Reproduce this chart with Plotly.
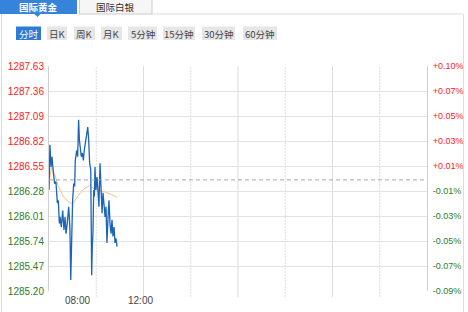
import plotly.graph_objects as go

# ---------------- data ----------------
PRE_CLOSE = 1286.40
Y_TICKS = [1285.20, 1285.47, 1285.74, 1286.01, 1286.28, 1286.55, 1286.82, 1287.09, 1287.36, 1287.63]
PCT_LABELS = ["-0.09%", "-0.07%", "-0.05%", "-0.03%", "-0.01%", "+0.01%", "+0.03%", "+0.05%", "+0.07%", "+0.10%"]
X_TICKS = [8, 12]
X_TICK_LABELS = ["08:00", "12:00"]
GRID_SOLID = [12, 18, 24]
GRID_DASHED = [9, 15, 21, 27]
X_RANGE = [6, 30]

price_time = [6.00, 6.06, 6.13, 6.19, 6.28, 6.36, 6.44, 6.53, 6.59, 6.66, 6.70, 6.78, 6.87, 6.95,
              7.02, 7.08, 7.16, 7.25, 7.29, 7.33, 7.38, 7.42, 7.46, 7.50, 7.57, 7.63, 7.67, 7.76,
              7.82, 7.88, 7.93, 7.99, 8.05, 8.12, 8.18, 8.24, 8.31, 8.39, 8.46, 8.52, 8.58, 8.65,
              8.69, 8.71, 8.75, 8.79, 8.84, 8.88, 8.92, 8.98, 9.05, 9.11, 9.17, 9.24, 9.30, 9.37,
              9.43, 9.49, 9.56, 9.62, 9.68, 9.75, 9.81, 9.87, 9.94, 10.00, 10.06, 10.13, 10.19,
              10.25, 10.32]
price = [1286.29, 1286.78, 1286.54, 1286.65, 1286.47, 1286.36, 1286.38, 1286.15, 1286.18, 1285.93,
         1286.00, 1285.89, 1286.07, 1285.86, 1286.00, 1285.82, 1285.93, 1286.11, 1286.00, 1285.86,
         1285.32, 1285.75, 1285.93, 1286.18, 1286.36, 1286.33, 1286.61, 1286.72, 1286.65, 1287.05,
         1286.83, 1286.72, 1286.65, 1286.69, 1286.61, 1286.72, 1286.80, 1286.90, 1286.97, 1286.83,
         1286.58, 1286.51, 1286.00, 1285.37, 1285.68, 1285.82, 1286.29, 1286.22, 1286.54, 1286.29,
         1286.43, 1286.18, 1286.11, 1286.58, 1286.33, 1286.04, 1286.26, 1286.07, 1286.00, 1286.11,
         1285.72, 1286.00, 1286.18, 1285.93, 1285.82, 1285.97, 1285.79, 1285.89, 1285.72, 1285.77,
         1285.68]

avg_time = [6.00, 6.03, 6.16, 6.37, 6.59, 6.91, 7.33, 7.54, 7.97, 8.28, 8.60, 8.81, 9.13, 9.56, 9.98, 10.34]
avg_price = [1286.33, 1286.40, 1286.54, 1286.46, 1286.33, 1286.22, 1286.15, 1286.15, 1286.26, 1286.31,
             1286.34, 1286.31, 1286.29, 1286.27, 1286.24, 1286.21]

TABS = ["国际黄金", "国际白银"]
BUTTONS = ["分时", "日K", "周K", "月K", "5分钟", "15分钟", "30分钟", "60分钟"]

# ---------------- style / layout ----------------
W, H = 468, 312
L, R, T, B = 49, 427, 66, 291
RED = "#ff1a1a"
GREEN = "#2e7d1f"
FONT = "Liberation Sans"
CJK = "Noto Sans CJK SC"


def fx(px):
    return (px - L) / (R - L)


def fy(py):
    return (B - py) / (B - T)


def col(v):
    return RED if v > PRE_CLOSE else GREEN


left_text = [f'<span style="color:{col(v)}">{v:.2f}</span>' for v in Y_TICKS]
right_text = [f'<span style="color:{col(v)}">{t}</span>' for v, t in zip(Y_TICKS, PCT_LABELS)]

fig = go.Figure()
fig.add_trace(go.Scatter(x=avg_time, y=avg_price, mode="lines",
                         line=dict(color="#f7c08e", width=1), hoverinfo="skip", yaxis="y"))
fig.add_trace(go.Scatter(x=price_time, y=price, mode="lines",
                         line=dict(color="#1b63b7", width=1.3), hoverinfo="skip", yaxis="y2"))

shapes = []
# vertical grid lines
for g in GRID_SOLID:
    shapes.append(dict(type="line", xref="x", yref="paper", x0=g, x1=g, y0=fy(297), y1=1,
                       line=dict(color="#dcdcdc", width=1), layer="below"))
for g in GRID_DASHED:
    shapes.append(dict(type="line", xref="x", yref="paper", x0=g, x1=g, y0=fy(297), y1=1,
                       line=dict(color="#dedede", width=1, dash="2px,1px"), layer="below"))
# previous close
shapes.append(dict(type="line", xref="paper", yref="y", x0=0, x1=1, y0=PRE_CLOSE, y1=PRE_CLOSE,
                   line=dict(color="#a8a8a8", width=1, dash="4px,3px")))
# panel frame
shapes.append(dict(type="line", xref="paper", yref="paper", x0=fx(152), x1=fx(463), y0=fy(14), y1=fy(14),
                   line=dict(color="#dddddd", width=1)))
shapes.append(dict(type="line", xref="paper", yref="paper", x0=fx(1.5), x1=fx(1.5), y0=fy(14), y1=fy(312),
                   line=dict(color="#dddddd", width=1)))
shapes.append(dict(type="line", xref="paper", yref="paper", x0=fx(463.5), x1=fx(463.5), y0=fy(14), y1=fy(312),
                   line=dict(color="#dddddd", width=1)))
# tabs
shapes.append(dict(type="rect", xref="paper", yref="paper", x0=fx(0), x1=fx(77), y0=fy(14), y1=fy(0),
                   fillcolor="#3584d9", line=dict(width=0)))
shapes.append(dict(type="path", xref="paper", yref="paper",
                   path=f"M {fx(34)},{fy(13.5)} L {fx(41)},{fy(13.5)} L {fx(37.5)},{fy(17)} Z",
                   fillcolor="#3584d9", line=dict(width=0)))
shapes.append(dict(type="rect", xref="paper", yref="paper", x0=fx(79.5), x1=fx(152), y0=fy(14), y1=fy(-1),
                   fillcolor="#f6f6f6", line=dict(color="#cccccc", width=1)))

annotations = [
    dict(text="<b>" + TABS[0] + "</b>", x=fx(38), y=fy(7), xref="paper", yref="paper", showarrow=False,
         font=dict(family=CJK, size=9.5, color="white"), xanchor="center", yanchor="middle"),
    dict(text=TABS[1], x=fx(115), y=fy(7), xref="paper", yref="paper", showarrow=False,
         font=dict(family=CJK, size=9.5, color="#333333"), xanchor="center", yanchor="middle"),
]
btn_x = [(16, 41), (47, 67), (74, 95), (101, 122), (128, 157), (163, 195), (202, 235), (243, 277)]
for i, (lbl, (a, b)) in enumerate(zip(BUTTONS, btn_x)):
    active = i == 0
    shapes.append(dict(type="rect", xref="paper", yref="paper", x0=fx(a), x1=fx(b), y0=fy(40), y1=fy(26.5),
                       fillcolor="#2d7bd6" if active else "#e6e6e6", line=dict(width=0)))
    annotations.append(dict(text=lbl, x=fx((a + b) / 2), y=fy(33.5), xref="paper", yref="paper",
                            showarrow=False, xanchor="center", yanchor="middle",
                            font=dict(family=CJK, size=9.5, color="white" if active else "#444444")))

fig.update_layout(
    width=W, height=H,
    margin=dict(l=L, r=W - R, t=T, b=H - B, autoexpand=False),
    paper_bgcolor="white", plot_bgcolor="white",
    showlegend=False,
    shapes=shapes,
    annotations=annotations,
    xaxis=dict(range=X_RANGE, tickvals=X_TICKS, ticktext=X_TICK_LABELS, showgrid=False, zeroline=False,
               showline=False, ticks="", tickfont=dict(family=FONT, size=10, color="#444444"),
               ticklabelshift=-3, ticklabelstandoff=2, fixedrange=True, automargin=False),
    yaxis=dict(range=[Y_TICKS[0], Y_TICKS[-1]], tickvals=Y_TICKS, ticktext=left_text, showgrid=True,
               gridcolor="#e3e3e3", gridwidth=1, zeroline=False, showline=True, linecolor="#cfcfcf",
               ticks="", tickfont=dict(family=FONT, size=10), ticklabelstandoff=2, fixedrange=True,
               automargin=False),
    yaxis2=dict(range=[Y_TICKS[0], Y_TICKS[-1]], tickvals=Y_TICKS, ticktext=right_text, overlaying="y",
                side="right", showgrid=False, zeroline=False, showline=True, linecolor="#cfcfcf",
                ticks="", tickfont=dict(family=FONT, size=9), ticklabelstandoff=3, fixedrange=True,
                automargin=False),
)

fig.write_html("out.html")
